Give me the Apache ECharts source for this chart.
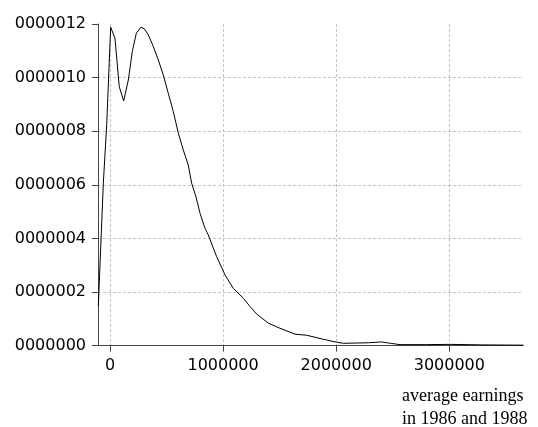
<!DOCTYPE html>
<html>
<head>
<meta charset="utf-8">
<script src="https://cdn.jsdelivr.net/npm/echarts@6/dist/echarts.min.js"></script>
<style>html,body{margin:0;padding:0;background:#fff}#c{width:538px;height:427px}</style>
</head>
<body>
<div id="c"></div>
<script>
// earnings (x) and kernel density in units of 1e-7 (y)
const earnings = [-103000,-59000,-29000,6000,44000,82000,121000,162000,197000,233000,274000,304000,339000,383000,427000,471000,515000,560000,604000,648000,692000,722000,760000,796000,840000,869000,943000,1017000,1090000,1179000,1238000,1297000,1400000,1503000,1636000,1739000,1886000,2004000,2063000,2181000,2284000,2402000,2480000,2564000,2800000,3006000,3300000,3654000];
const density = [1.48,6.06,8.24,11.88,11.47,9.66,9.13,9.91,10.97,11.66,11.88,11.82,11.59,11.16,10.66,10.10,9.42,8.73,7.93,7.30,6.74,6.06,5.56,4.94,4.38,4.13,3.32,2.64,2.14,1.77,1.46,1.18,0.84,0.65,0.43,0.39,0.24,0.13,0.09,0.10,0.11,0.14,0.09,0.04,0.04,0.05,0.03,0.02];
const xTicks = [0,1000000,2000000,3000000];
const xTickLabels = ['0','1000000','2000000','3000000'];
const yTicks = [0,2,4,6,8,10,12];
const yTickLabels = ['0000000','0000002','0000004','0000006','0000008','0000010','0000012'];
const xTitle = 'average earnings\nin 1986 and 1988';

const chart = echarts.init(document.getElementById('c'), null, {renderer:'canvas'});
const pts = earnings.map((x,i)=>[x, density[i]]);
const gridColor = '#c4c4c4';
chart.setOption({
  animation:false,
  title:{
    text:xTitle, left:402, top:385, padding:0,
    textStyle:{fontFamily:'Liberation Serif', fontSize:18, fontWeight:'normal', color:'#000', lineHeight:23}
  },
  grid:{left:98, right:14.7, top:24, bottom:81.3, containLabel:false},
  xAxis:{
    type:'value', min:-106000, max:3654000,
    axisLine:{show:true, onZero:false, lineStyle:{color:'#444', width:1}},
    axisTick:{show:true, length:6, customValues:xTicks, lineStyle:{color:'#444'}},
    axisLabel:{customValues:xTicks, margin:12, fontFamily:'DejaVu Sans', fontSize:16, color:'#000',
      formatter:v=>{const i=xTicks.indexOf(v); return i>=0?xTickLabels[i]:'';}},
    splitLine:{show:true, lineStyle:{color:gridColor, type:[3,2], width:1}}
  },
  yAxis:{
    type:'value', min:0, max:12, interval:2,
    axisLine:{show:true, onZero:false, lineStyle:{color:'#444', width:1}},
    axisTick:{show:true, length:6, lineStyle:{color:'#444'}},
    axisLabel:{margin:12, fontFamily:'DejaVu Sans', fontSize:16, color:'#000',
      formatter:v=>{const i=yTicks.indexOf(v); return i>=0?yTickLabels[i]:'';}},
    splitLine:{show:true, lineStyle:{color:[gridColor,gridColor,gridColor,gridColor,gridColor,gridColor,'rgba(0,0,0,0)'], type:[3,2], width:1}}
  },
  series:[{
    type:'line', data:pts, showSymbol:false, symbol:'none', smooth:false,
    lineStyle:{color:'#000', width:1}, clip:true
  }]
});
</script>
</body>
</html>
